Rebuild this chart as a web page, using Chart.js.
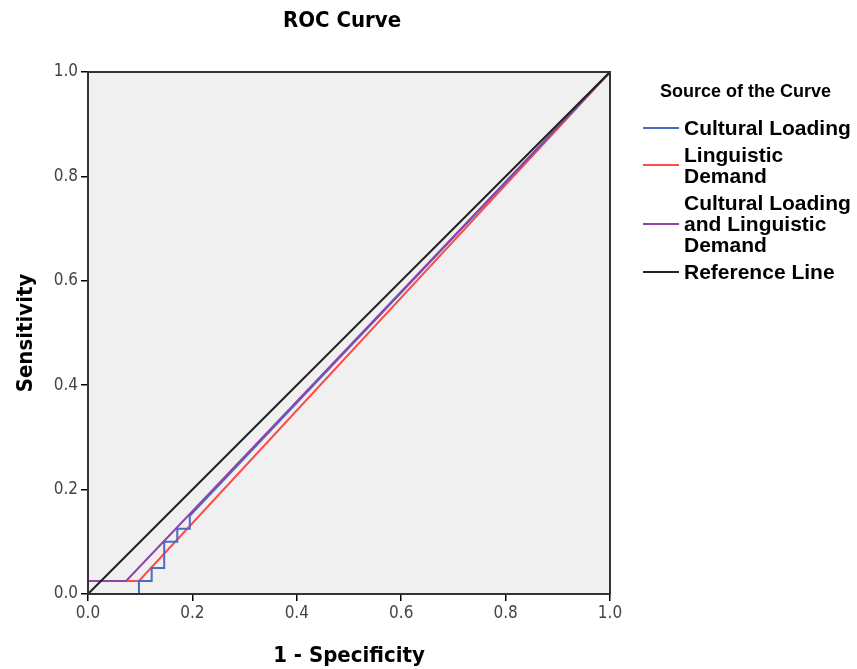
<!DOCTYPE html>
<html><head><meta charset="utf-8">
<script src="https://cdn.jsdelivr.net/npm/chart.js@4"></script>
<style>
html,body{margin:0;padding:0;background:#fff;}
#wrap{position:relative;width:857px;height:669px;}
#legend{position:absolute;left:643px;top:81px;font-family:"Liberation Sans",Arial,sans-serif;color:#000;}
#legend .t{font-weight:bold;font-size:18px;line-height:21px;margin-left:17px;margin-bottom:15px;white-space:nowrap;}
#legend .it{display:flex;align-items:center;font-weight:bold;font-size:21px;line-height:21px;margin-bottom:6px;white-space:nowrap;}
#legend .sw{width:36px;height:0;border-top:2px solid;margin-right:5px;flex:none;}
</style></head>
<body><div id="wrap"><canvas id="c" width="857" height="669"></canvas>
<div id="legend"></div></div>
<script>
const seriesNames = ["Cultural Loading", "Linguistic\nDemand", "Cultural Loading\nand Linguistic\nDemand", "Reference Line"];
const seriesColors = ["#4a6cc4", "#ff4a4a", "#8e44a8", "#222222"];
const culturalX = [0, 0.0976, 0.0976, 0.122, 0.122, 0.146, 0.146, 0.171, 0.171, 0.195, 0.195, 1];
const culturalY = [0, 0, 0.025, 0.025, 0.05, 0.05, 0.1, 0.1, 0.125, 0.125, 0.15, 1];
const linguisticX = [0, 0, 0.0976, 1];
const linguisticY = [0, 0.025, 0.025, 1];
const bothX = [0, 0, 0.073, 1];
const bothY = [0, 0.025, 0.025, 1];
const refX = [0, 1];
const refY = [0, 1];
const tickValues = [0, 0.2, 0.4, 0.6, 0.8, 1.0];

const pts = (xs, ys) => xs.map((x, i) => ({x, y: ys[i]}));
const allX = [culturalX, linguisticX, bothX, refX];
const allY = [culturalY, linguisticY, bothY, refY];
// Chart.js paints the first dataset on top
const order = [3, 2, 0, 1];
const datasets = order.map(i => ({
  label: seriesNames[i], data: pts(allX[i], allY[i]), borderColor: seriesColors[i],
  borderWidth: 2, showLine: true, pointRadius: 0, fill: false, tension: 0
}));

const lg = document.getElementById('legend');
lg.innerHTML = '<div class="t">Source of the Curve</div>' + seriesNames.map((n, i) =>
  `<div class="it"><span class="sw" style="border-color:${seriesColors[i]}"></span><span>${n.replace(/\n/g,'<br>')}</span></div>`).join('');

const narrow = '"DejaVu Sans Condensed","Liberation Sans Narrow","Arial Narrow","Liberation Sans",sans-serif';
const bgPlugin = {
  id: 'bg',
  beforeDraw(ch) {
    const {ctx, chartArea: a} = ch;
    ctx.save(); ctx.fillStyle = '#f0f0f0';
    ctx.fillRect(a.left, a.top, a.right - a.left, a.bottom - a.top); ctx.restore();
  },
  afterDraw(ch) {
    const {ctx, chartArea: a} = ch;
    ctx.save(); ctx.strokeStyle = '#333'; ctx.lineWidth = 2;
    ctx.strokeRect(a.left, a.top, a.right - a.left, a.bottom - a.top);
    ctx.fillStyle = '#000'; ctx.font = 'bold 22px ' + narrow;
    ctx.textAlign = 'center'; ctx.textBaseline = 'middle';
    ctx.fillText('ROC Curve', 342, 21);
    ctx.restore();
  }
};

new Chart(document.getElementById('c'), {
  type: 'scatter',
  data: {datasets},
  options: {
    responsive: false, animation: false,
    layout: {padding: {top: 72, right: 247, bottom: 0, left: 0}},
    plugins: {legend: {display: false}, tooltip: {enabled: false}},
    scales: {
      x: {
        type: 'linear', min: 0, max: 1,
        afterBuildTicks: s => { s.ticks = tickValues.map(v => ({value: v})); },
        afterFit: s => { s.height = 75; },
        ticks: {color: '#444', font: {family: narrow, size: 17}, padding: 2, callback: v => v.toFixed(1)},
        grid: {drawOnChartArea: false, tickLength: 7, color: '#000', lineWidth: 1.5},
        border: {display: false},
        title: {display: true, text: '1 - Specificity', color: '#000', font: {family: narrow, size: 22, weight: 'bold'}, padding: {top: 14, bottom: 0}}
      },
      y: {
        type: 'linear', min: 0, max: 1,
        afterBuildTicks: s => { s.ticks = tickValues.map(v => ({value: v})); },
        afterFit: s => { s.width = 88; },
        ticks: {color: '#444', font: {family: narrow, size: 17}, padding: 3, callback: v => v.toFixed(1)},
        grid: {drawOnChartArea: false, tickLength: 7, color: '#000', lineWidth: 1.5},
        border: {display: false},
        title: {display: true, text: 'Sensitivity', color: '#000', font: {family: narrow, size: 22, weight: 'bold'}, padding: {top: 13, bottom: 0}}
      }
    }
  },
  plugins: [bgPlugin]
});
</script></body></html>
